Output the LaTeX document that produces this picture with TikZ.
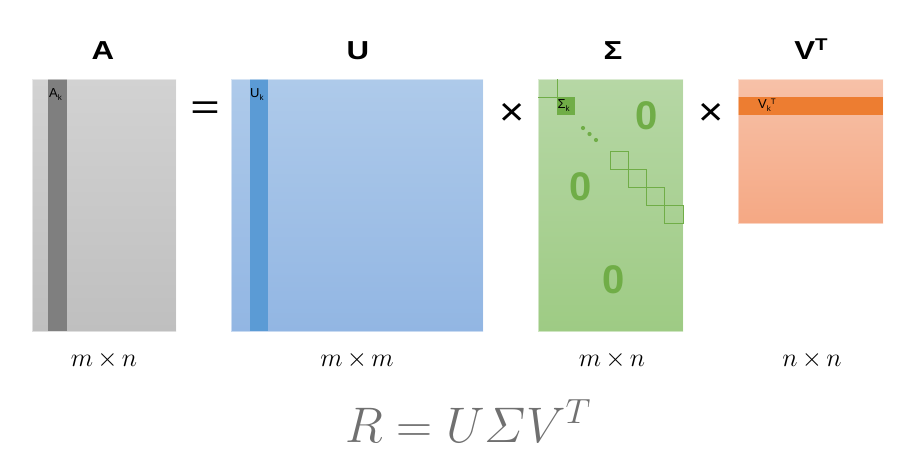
\RequirePackage{fix-cm}
\documentclass[tikz,border=0pt]{standalone}
\usepackage{amsmath}
\usepackage{fontspec}
\setmainfont{Liberation Sans}
\definecolor{agrayT}{RGB}{210,210,210}
\definecolor{agrayB}{RGB}{191,191,191}
\definecolor{adark}{RGB}{127,127,127}
\definecolor{ublueT}{RGB}{174,202,234}
\definecolor{ublueB}{RGB}{146,182,227}
\definecolor{udark}{RGB}{91,155,213}
\definecolor{sgreenT}{RGB}{182,215,165}
\definecolor{sgreenB}{RGB}{158,203,132}
\definecolor{zgreen}{RGB}{112,173,71}
\definecolor{vorT}{RGB}{247,193,168}
\definecolor{vorB}{RGB}{245,168,132}
\definecolor{vdark}{RGB}{237,125,49}
\definecolor{eqgray}{RGB}{112,112,112}
\newcommand{\wide}[1]{\scalebox{1.2}[1]{#1}}
\begin{document}
\begin{tikzpicture}[x=1pt,y=-1pt,
  title/.style={font=\fontsize{26}{30}\selectfont\bfseries, anchor=base, inner sep=0pt},
  small/.style={font=\fontsize{13}{15}\selectfont, anchor=north west, inner sep=0pt},
  op/.style={font=\fontsize{36}{40}\selectfont, inner sep=0pt},
  dim/.style={font=\fontsize{26}{30}\selectfont, anchor=base, inner sep=0pt},
  zero/.style={font=\fontsize{40}{44}\selectfont\bfseries, text=zgreen, inner sep=0pt},
  sq/.style={draw=zgreen, line width=0.7pt},
  rim/.style={draw=white, draw opacity=0.5, line width=0.8pt}]
\useasboundingbox (0,0) rectangle (916,453);

% ---- A ----
\shade[top color=agrayT,bottom color=agrayB] (32,79) rectangle (176,331);
\fill[adark] (48,79) rectangle (67,331);
\draw[rim] (32,79) rectangle (176,331);
\node[title] (tA) at (103,59) {\wide{A}};
\node[small] (Ak) at (49,88) {A\raisebox{-3pt}{\fontsize{8}{9}\selectfont k}};

% ---- = ----
\node[op] (eqsign) at (205,111) {\scalebox{1.4}[1]{=}};

% ---- U ----
\shade[top color=ublueT,bottom color=ublueB] (231,79) rectangle (483,331);
\fill[udark] (250,79) rectangle (268,331);
\draw[rim] (231,79) rectangle (483,331);
\node[title] (tU) at (358,59) {\wide{U}};
\node[small] (Uk) at (250,88) {U\raisebox{-3pt}{\fontsize{8}{9}\selectfont k}};

% ---- x ----
\node[op] (times1) at (512,114) {\scalebox{1.2}[1.1]{×}};

% ---- Sigma ----
\shade[top color=sgreenT,bottom color=sgreenB] (538,79) rectangle (683,331);
\draw[rim] (538,79) rectangle (683,331);
\node[title] (tS) at (613,59) {\wide{Σ}};
\draw[sq] (538,97) -- (557,97) -- (557,79);
\fill[zgreen] (557,97) rectangle (575,115);
\node[small] (Sk) at (557.5,99) {Σ\raisebox{-3pt}{\fontsize{8}{9}\selectfont k}};
\fill[zgreen] (583,128) circle (2.1);
\fill[zgreen] (589.5,134) circle (2.1);
\fill[zgreen] (596,140) circle (2.1);
\draw[sq] (610,151) rectangle (628,169);
\draw[sq] (628,169) rectangle (646,187);
\draw[sq] (646,187) rectangle (664,205);
\draw[sq] (664,205) rectangle (683,223);
\node[zero] (z1) at (647,116) {0};
\node[zero] (z2) at (581,187) {0};
\node[zero] (z3) at (614,280) {0};

% ---- x ----
\node[op] (times2) at (711,114) {\scalebox{1.2}[1.1]{×}};

% ---- V^T ----
\shade[top color=vorT,bottom color=vorB] (738,79) rectangle (883,223);
\fill[vdark] (738,97) rectangle (883,115);
\draw[rim] (738,79) rectangle (883,223);
\node[title] (tV) at (811,59) {\wide{V\raisebox{9pt}{\fontsize{17}{19}\selectfont T}}};
\node[small] (Vk) at (758,99) {V\raisebox{-3pt}{\fontsize{8}{9}\selectfont k}\raisebox{4pt}{\fontsize{8}{9}\selectfont T}};

% ---- dimensions ----
\node[dim] (d1) at (104,366) {$m\,{\times}\,n$};
\node[dim] (d2) at (357,366) {$m\,{\times}\,m$};
\node[dim] (d3) at (612,366) {$m\,{\times}\,n$};
\node[dim] (d4) at (812,366) {$n\,{\times}\,n$};

% ---- formula ----
\node[font=\fontsize{50}{56}\selectfont, text=eqgray, anchor=base, inner sep=0pt] (eq) at (468,442) {$R = U\varSigma V^T$};
\end{tikzpicture}
\end{document}
